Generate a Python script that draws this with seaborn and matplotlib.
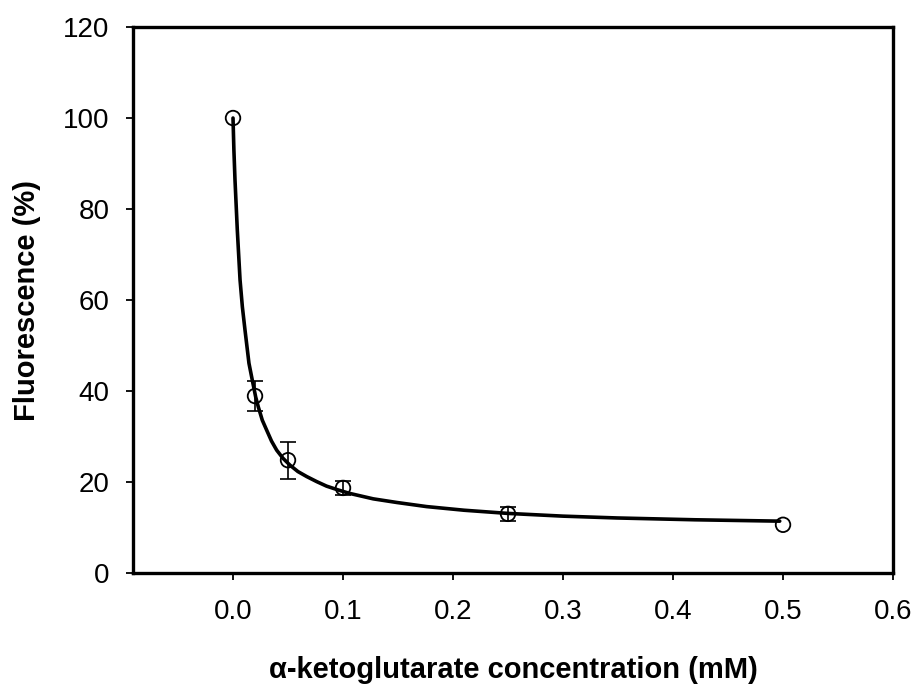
import matplotlib
matplotlib.use("Agg")
import matplotlib.pyplot as plt
import seaborn as sns
import pandas as pd

# Measured points
conc = [0.0, 0.02, 0.05, 0.10, 0.25, 0.50]
fluor = [100.0, 38.9, 24.8, 18.7, 13.0, 10.6]
err = [0.0, 3.3, 4.1, 1.5, 1.5, 0.0]

# Fitted curve
curve_x = [0.0, 0.0008, 0.0018, 0.0039, 0.0064, 0.0085, 0.0109, 0.0145, 0.0176,
           0.0206, 0.0230, 0.0266, 0.0306, 0.0350, 0.0397, 0.0455, 0.0518, 0.059,
           0.067, 0.076, 0.085, 0.095, 0.106, 0.1275, 0.149, 0.176, 0.21, 0.25,
           0.30, 0.349, 0.42, 0.497]
curve_y = [100.0, 93.0, 86.4, 75.4, 64.4, 58.5, 53.4, 46.1, 42.3,
           38.7, 36.5, 33.6, 31.4, 29.0, 27.0, 25.2, 23.7, 22.3,
           21.2, 20.1, 19.1, 18.3, 17.5, 16.3, 15.5, 14.6, 13.8, 13.1,
           12.5, 12.1, 11.7, 11.4]

xticks = [0.0, 0.1, 0.2, 0.3, 0.4, 0.5, 0.6]
yticks = [0, 20, 40, 60, 80, 100, 120]

sns.set_style("ticks")
plt.rcParams['font.family'] = ['Liberation Sans', 'DejaVu Sans']
plt.rcParams['text.color'] = 'black'
plt.rcParams['axes.labelcolor'] = 'black'

fig = plt.figure(figsize=(9.18, 6.86), dpi=100)
ax = fig.add_axes([0.1449, 0.1647, 0.8279, 0.7959])

curve = pd.DataFrame({"x": curve_x, "y": curve_y})
pts = pd.DataFrame({"x": conc, "y": fluor, "e": err})
eb = pts[pts["e"] > 0]

sns.lineplot(data=curve, x="x", y="y", ax=ax, color="black", lw=2.6, sort=True,
             estimator=None, zorder=2)
ax.errorbar(eb["x"], eb["y"], yerr=eb["e"], fmt="none", ecolor="black",
            elinewidth=1.2, capsize=6, capthick=1.2, zorder=3)
sns.scatterplot(data=pts, x="x", y="y", ax=ax, marker="o", s=110,
                facecolor="none", edgecolor="black", linewidth=1.3, zorder=4)

ax.set_xlim(-0.0909, 0.6)
ax.set_ylim(0, 120)
ax.set_xticks(xticks)
ax.set_xticklabels([f"{v:.1f}" for v in xticks])
ax.set_yticks(yticks)
ax.set_yticklabels([str(v) for v in yticks])
ax.tick_params(axis="both", direction="out", length=5, width=1.3,
               labelsize=20, colors="black")
ax.tick_params(axis="x", pad=14)
ax.tick_params(axis="y", pad=12)

for s in ax.spines.values():
    s.set_visible(True)
    s.set_linewidth(2.4)
    s.set_color("black")

ax.set_xlabel("α-ketoglutarate concentration (mM)", fontsize=21,
              fontweight="bold", labelpad=22, color="black")
ax.set_ylabel("Fluorescence (%)", fontsize=21, fontweight="bold", labelpad=16,
              color="black")

fig.savefig("out.png", dpi=100)
